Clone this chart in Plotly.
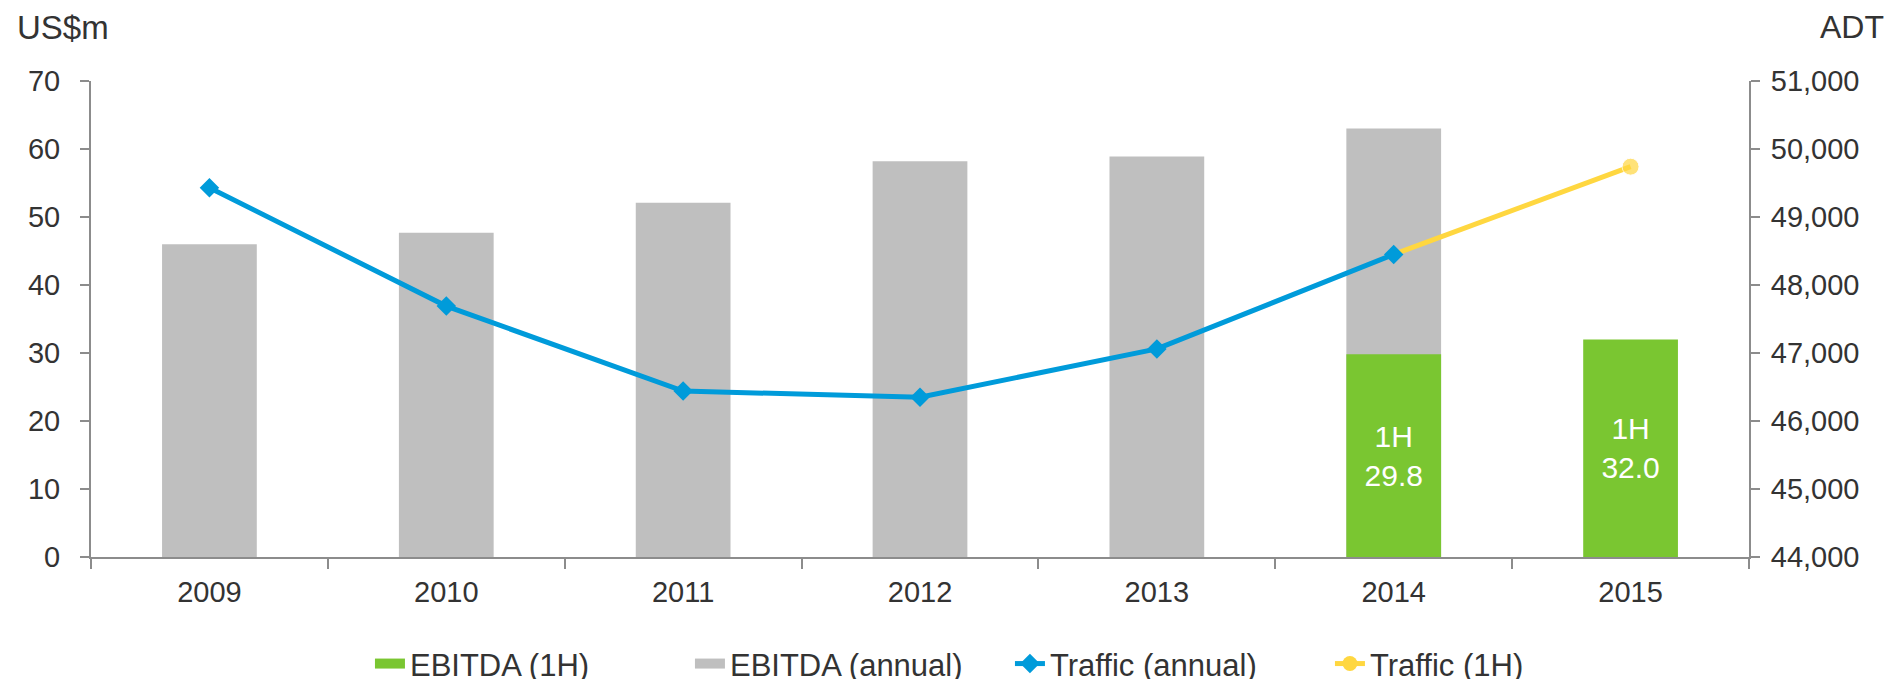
import plotly.graph_objects as go

years = ["2009", "2010", "2011", "2012", "2013", "2014", "2015"]
ebitda_annual = [46.0, 47.7, 52.1, 58.2, 58.9, 63.0, None]
ebitda_1h_years = ["2014", "2015"]
ebitda_1h = [29.8, 32.0]
ebitda_1h_labels = ["1H<br>29.8", "1H<br>32.0"]
traffic_years = ["2009", "2010", "2011", "2012", "2013", "2014"]
traffic_annual = [49430, 47690, 46440, 46350, 47060, 48450]
traffic_1h_years = ["2014", "2015"]
traffic_1h = [48450, 49740]

GREY = "#BFBFBF"
GREEN = "#7AC631"
BLUE = "#009BDA"
YELLOW = "#FFD740"
AXIS = "#8C8C8C"
TEXT = "#333333"
FONT = "Liberation Sans, Arial, sans-serif"
TICK = 29

fig = go.Figure()
fig.add_trace(go.Bar(
    x=years, y=ebitda_annual, name="EBITDA (annual)", marker=dict(color=GREY, line=dict(width=0)),
    width=0.4, showlegend=False, hoverinfo="skip"))
fig.add_trace(go.Bar(
    x=ebitda_1h_years, y=ebitda_1h, name="EBITDA (1H)", marker=dict(color=GREEN, line=dict(width=0)),
    width=0.4, text=ebitda_1h_labels, textposition="inside", insidetextanchor="middle",
    textangle=0, textfont=dict(color="white", size=30, family=FONT), showlegend=False))
fig.add_trace(go.Scatter(
    x=traffic_1h_years, y=traffic_1h, name="Traffic (1H)", yaxis="y2", mode="lines+markers",
    line=dict(color=YELLOW, width=5), marker=dict(symbol="circle", size=[10, 17], color=YELLOW),
    showlegend=False))
fig.add_trace(go.Scatter(
    x=traffic_years, y=traffic_annual, name="Traffic (annual)", yaxis="y2", mode="lines+markers",
    line=dict(color=BLUE, width=5), marker=dict(symbol="diamond", size=15, color=BLUE),
    showlegend=False))

# legend entries
fig.add_trace(go.Scatter(x=[None], y=[None], name="EBITDA (1H)", mode="lines",
                         line=dict(color=GREEN, width=10), legendrank=1))
fig.add_trace(go.Scatter(x=[None], y=[None], name="EBITDA (annual)", mode="lines",
                         line=dict(color=GREY, width=10), legendrank=2))
fig.add_trace(go.Scatter(x=[None], y=[None], name="Traffic (annual)", mode="lines+markers",
                         line=dict(color=BLUE, width=5), marker=dict(symbol="diamond", size=15, color=BLUE),
                         legendrank=3))
fig.add_trace(go.Scatter(x=[None], y=[None], name="Traffic (1H)", mode="lines+markers",
                         line=dict(color=YELLOW, width=5), marker=dict(symbol="circle", size=15, color=YELLOW),
                         legendrank=4))

fig.update_layout(
    width=1900, height=679,
    margin=dict(l=83, r=159, t=73, b=130, autoexpand=False),
    plot_bgcolor="white", paper_bgcolor="white",
    barmode="overlay",
    font=dict(family=FONT, size=TICK, color=TEXT),
    showlegend=True,
    legend=dict(orientation="h", xref="container", yref="container", x=0.1905, xanchor="left",
                y=0.034, yanchor="middle", font=dict(size=31, color=TEXT), tracegroupgap=0,
                entrywidth=275, entrywidthmode="pixels"),
    xaxis=dict(type="category", categoryorder="array", categoryarray=years, range=[-0.5, 6.5],
               showline=True, linecolor=AXIS, linewidth=2, ticks="outside", tickson="boundaries",
               ticklen=10, tickcolor=AXIS, tickwidth=2, showgrid=False, zeroline=False,
               ticklabelstandoff=8, tickfont=dict(size=TICK, color=TEXT)),
    yaxis=dict(range=[0, 70], dtick=10, showline=True, linecolor=AXIS, linewidth=2, ticks="outside",
               ticklen=9, tickcolor=AXIS, tickwidth=2, showgrid=False, zeroline=False,
               ticklabelstandoff=14, tickfont=dict(size=TICK, color=TEXT)),
    yaxis2=dict(range=[44000, 51000], dtick=1000, tickformat=",", overlaying="y", side="right",
                showline=True, linecolor=AXIS, linewidth=2, ticks="outside", ticklen=9,
                tickcolor=AXIS, tickwidth=2, showgrid=False, zeroline=False,
                ticklabelstandoff=5, tickfont=dict(size=TICK, color=TEXT)),
    annotations=[
        dict(text="US$m", xref="paper", yref="paper", x=0, y=1.0, xanchor="left", yanchor="middle",
             xshift=-76, yshift=54, showarrow=False, font=dict(size=33, color=TEXT)),
        dict(text="ADT", xref="paper", yref="paper", x=1.0, y=1.0, xanchor="right", yanchor="middle",
             xshift=137, yshift=54, showarrow=False, font=dict(size=32, color=TEXT)),
    ],
)

fig.write_html("out.html")
